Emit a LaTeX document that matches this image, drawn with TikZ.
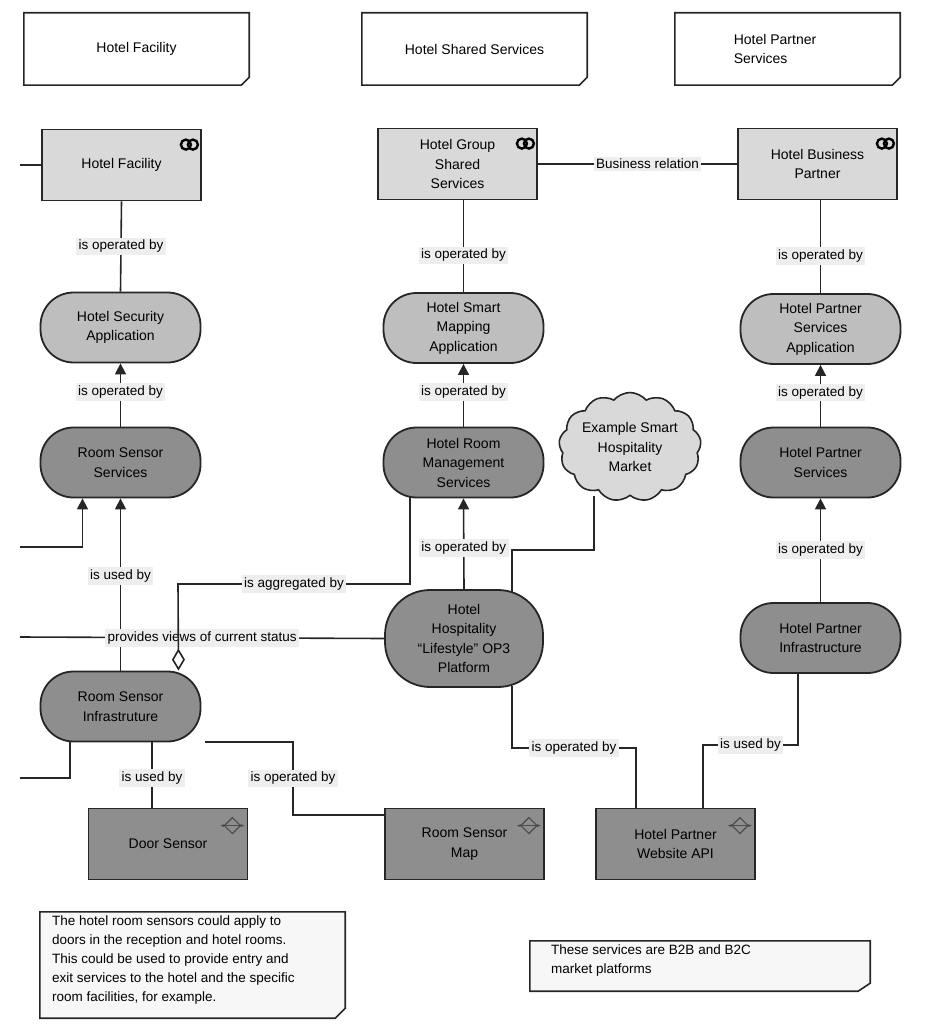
\documentclass[tikz,border=0pt]{standalone}
\usepackage{fontspec}
\setmainfont{Liberation Sans}
\usetikzlibrary{shapes.symbols,arrows.meta}
\definecolor{lg}{HTML}{D9D9D9}
\definecolor{mg}{HTML}{BEBEBE}
\definecolor{dg}{HTML}{8E8E8E}
\definecolor{lbl}{HTML}{EEEEEE}
\begin{document}
\begin{tikzpicture}[x=1pt,y=-1pt,font=\fontsize{14}{19.5}\selectfont,
  every node/.style={align=center,inner sep=0pt},
  ln/.style={draw=black!85,line width=1.6pt},
  ar/.style={ln,-{Triangle[length=11pt,width=11pt]}},
  lab/.style={fill=lbl,inner sep=2.5pt,font=\fontsize{13.5}{15}\selectfont},
  box/.style={draw=black!85,line width=1.8pt,minimum width=159pt,minimum height=71pt},
  pill/.style={draw=black!85,line width=1.8pt,minimum width=160pt,minimum height=70pt,rounded corners=33pt},
  hdr/.style={minimum width=225pt,minimum height=72pt},
  fold/.style={draw=black!85,line width=1.6pt}]
\useasboundingbox (0,0) rectangle (934,1024);
% headers
\foreach \n/\x/\t in {h1/136.5/Hotel Facility,h2/474.5/Hotel Shared Services}{
  \node[hdr] (\n) at (\x,49) {\t};
  \draw[fold] (\n.north west) -- (\n.north east) -- ([yshift=8pt]\n.south east) -- ([xshift=-8pt]\n.south east) -- (\n.south west) -- cycle;}
\node[hdr] (h3) at (787.5,49) {};
\node[align=left] (h3t) at (775,49) {Hotel Partner\\Services};
\draw[fold] (h3.north west) -- (h3.north east) -- ([yshift=8pt]h3.south east) -- ([xshift=-8pt]h3.south east) -- (h3.south west) -- cycle;
% top boxes
\node[box,fill=lg] (hf) at (121.5,165) {Hotel Facility};
\node[box,fill=lg] (hgss) at (457.5,164) {Hotel Group\\Shared\\Services};
\node[box,fill=lg] (hbp) at (817.5,164) {Hotel Business\\Partner};
\foreach \n in {hf,hgss,hbp}{
  \draw[line width=2.4pt] ([xshift=-16pt,yshift=-16pt]\n.north east) circle (5pt);
  \draw[line width=2.4pt] ([xshift=-9pt,yshift=-16pt]\n.north east) circle (5pt);}
% pills
\node[pill,fill=mg] (hsa) at (120.5,327.5) {Hotel Security\\Application};
\node[pill,fill=mg] (hsma) at (463.5,328) {Hotel Smart\\Mapping\\Application};
\node[pill,fill=mg] (hpsa) at (820.5,329) {Hotel Partner\\Services\\Application};
\node[pill,fill=dg] (rss) at (120.5,462.5) {Room Sensor\\Services};
\node[pill,fill=dg] (hrms) at (463.5,462.5) {Hotel Room\\Management\\Services};
\node[pill,fill=dg] (hps) at (820.5,462.5) {Hotel Partner\\Services};
\node[pill,fill=dg,minimum height=97pt,minimum width=158pt,rounded corners=45pt] (plat) at (464,638.5) {Hotel\\Hospitality\\``Lifestyle'' OP3\\Platform};
\node[pill,fill=dg] (hpi) at (820.5,638) {Hotel Partner\\Infrastructure};
\node[pill,fill=dg] (rsi) at (120.5,706.5) {Room Sensor\\Infrastruture};
\node[cloud,cloud puffs=13,cloud puff arc=100,aspect=1.4,draw=black!85,line width=1.6pt,fill=lg,minimum width=138pt,minimum height=105pt] (cl) at (630,447) {Example Smart\\Hospitality\\Market};
% bottom boxes
\node[box,fill=dg] (ds) at (168,844) {Door Sensor};
\node[box,fill=dg] (rsm) at (464.5,844) {Room Sensor\\Map};
\node[box,fill=dg] (api) at (675.5,844) {Hotel Partner\\Website API};
\foreach \n in {ds,rsm,api}{
  \draw[line width=1.1pt,black!70] ([xshift=-24pt,yshift=-18pt]\n.north east) -- ([xshift=-16pt,yshift=-10pt]\n.north east) -- ([xshift=-8pt,yshift=-18pt]\n.north east) -- ([xshift=-16pt,yshift=-26pt]\n.north east) -- cycle;
  \draw[line width=1.1pt,black!70,{Stealth[length=4pt]}-{Stealth[length=4pt]}] ([xshift=-28pt,yshift=-18pt]\n.north east) -- ([xshift=-4pt,yshift=-18pt]\n.north east);}
% notes
\node[minimum width=305pt,minimum height=106pt] (n1) at (192.5,965) {};
\draw[fold,fill=black!3] (n1.north west) -- (n1.north east) -- ([yshift=10pt]n1.south east) -- ([xshift=-10pt]n1.south east) -- (n1.south west) -- cycle;
\node[align=left,anchor=north west,font=\fontsize{13.5}{19}\selectfont] (n1t) at (52,916) {The hotel room sensors could apply to\\doors in the reception and hotel rooms.\\This could be used to provide entry and\\exit services to the hotel and the specific\\room facilities, for example.};
\node[minimum width=340pt,minimum height=50pt] (n2) at (700,966) {};
\draw[fold,fill=black!3] (n2.north west) -- (n2.north east) -- ([yshift=8pt]n2.south east) -- ([xshift=-12pt]n2.south east) -- (n2.south west) -- cycle;
\node[align=left,anchor=north west,font=\fontsize{13.5}{19}\selectfont] (n2t) at (551,945) {These services are B2B and B2C\\market platforms};
% coordinates
\coordinate (s1) at (20,165);
\coordinate (s2) at (20,547);
\coordinate (s3) at (20,637);
\coordinate (s4) at (20,778);
% connectors
\draw[ln] (s1) -- (hf.west);
\draw[ln] (hf.south) -- node[lab]{is operated by} (hsa.north);
\draw[ar] (rss.north) -- node[lab,pos=0.55]{is operated by} (hsa.south);
\draw[ln] (hgss.south-|hsma.north) -- node[lab,pos=0.6]{is operated by} (hsma.north);
\draw[ar] (hrms.north) -- node[lab,pos=0.55]{is operated by} (hsma.south);
\draw[ln] (hbp.south-|hpsa.north) -- node[lab,pos=0.6]{is operated by} (hpsa.north);
\draw[ar] (hps.north) -- node[lab,pos=0.55]{is operated by} (hpsa.south);
\draw[ar] (hpi.north) -- node[lab]{is operated by} (hps.south);
\draw[ln] (hgss.east) -- node[lab,pos=0.55]{Business relation} (hbp.west);
\draw[ar] (plat.north) -- node[lab,pos=0.45]{is operated by} (hrms.south);
\draw[ar] (s2) -| ([xshift=-38pt]rss.south);
\draw[ar] (rsi.north) -- node[lab,pos=0.55]{is used by} (rss.south);
\draw[ln] (s3) -- node[lab,pos=0.5]{provides views of current status} (plat.west);
\draw[ln,{Diamond[open,length=22pt,width=13pt,line width=1.6pt]}-] ([xshift=58pt]rsi.north) -- (178,584) -- node[lab]{is aggregated by} (410,584) -- (410,497);
\draw[ln] (cl.south-|594,0) -- (594,550) -- (512,550) -- (512,592);
\draw[ln] (512,686) -- (512,748) -- node[lab,pos=0.5]{is operated by} (636,748) -- (api.north-|636,0);
\draw[ln] (hpi.south-|798,0) -- (798,745) -- node[lab,pos=0.5]{is used by} (703,745) -- (api.north-|703,0);
\draw[ln] (rsi.south-|152,0) -- node[lab,pos=0.55]{is used by} (ds.north-|152,0);
\draw[ln] (205,742) -- (293,742) -- node[lab,pos=0.5]{is operated by} (293,815) -- (rsm.west|-0,815);
\draw[ln] (rsi.south-|70,0) -- (70,778) -- (s4);
\end{tikzpicture}
\end{document}
